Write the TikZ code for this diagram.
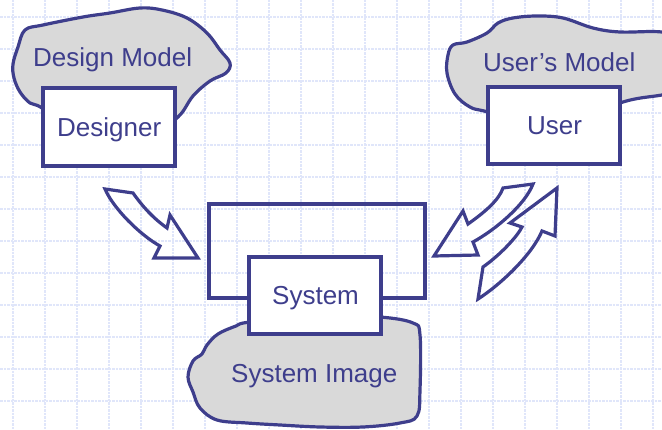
\documentclass[tikz,border=0pt]{standalone}
\usepackage{fontspec}
\setmainfont{Liberation Sans}
\definecolor{ink}{RGB}{62,62,140}
\definecolor{blobgray}{RGB}{217,217,217}
\definecolor{gridblue}{RGB}{224,230,250}
\begin{document}
\begin{tikzpicture}[x=1pt,y=-1pt,
  lbl/.style={text=ink,font=\fontsize{26}{30}\selectfont,inner sep=0pt,anchor=base west},
  boxnode/.style={draw=ink,line width=3.2pt,fill=white},
  blob/.style={draw=ink,line width=3.2pt,fill=blobgray,line join=round},
  bigarrow/.style={draw=ink,line width=3.2pt,line join=miter},
  gridline/.style={draw=gridblue,line width=1.3pt,dash pattern=on 2.5pt off 1pt}]
\useasboundingbox (0,0) rectangle (662,430);
\clip (0,0) rectangle (662,430);
% grid
\foreach \i in {0,...,20} {\draw[gridline] (13+32*\i,0) -- (13+32*\i,430);}
\foreach \j in {0,...,12} {\draw[gridline] (0,17+32*\j) -- (662,17+32*\j);}
% blobs
\draw[blob] plot[smooth cycle,tension=0.6] coordinates {(42,108) (30,103) (20,92) (14,78) (13,64) (18,47) (25,30) (43,25) (83,17) (110,13) (140,8) (162,10) (187,18) (207,33) (220,50) (230,63) (226,73) (210,81) (193,96) (178,117) (150,135) (80,135)};
\draw[blob] plot[smooth cycle,tension=0.6] coordinates {(488,112) (470,107) (455,94) (447,73) (448,55) (453,45) (467,42) (487,33) (498,23) (513,18) (537,16) (563,18) (593,28) (620,32) (662,32) (690,40) (690,90) (662,95) (620,103) (560,130)};
\draw[blob] plot[smooth cycle,tension=0.6] coordinates {(250,322) (236,326) (218,334) (207,345) (202,354) (193,361) (188,377) (193,392) (200,408) (217,420) (247,423) (280,425) (320,427) (363,427) (400,423) (417,416) (420,390) (420,335) (413,323) (380,317) (320,315)};
% boxes
\draw[ink,line width=3.2pt] (209,204) rectangle (425,298);
\node[boxnode,minimum width=132pt,minimum height=78pt] (designer) at (109,127) {};
\node[boxnode,minimum width=132pt,minimum height=77pt] (user) at (554,125.5) {};
\node[boxnode,minimum width=132pt,minimum height=77pt] (system) at (315,295.5) {};
% labels
\node[lbl] (dm) at (33,67) {Design Model};
\node[lbl] (dt) at (57,137) {Designer};
\node[lbl] (um) at (483,72) {User’s Model};
\node[lbl] (ut) at (527,135) {User};
\node[lbl] (st) at (272,305) {System};
\node[lbl] (si) at (231,383) {System Image};
% arrows
\draw[bigarrow] (105,189) -- (133,193) .. controls (143,207) and (153,218) .. (167,228) -- (170,215) -- (198,258) -- (154,258) -- (160,246) .. controls (140,235) and (113,208) .. (105,189) -- cycle;
\draw[bigarrow] (503,188) -- (533,184) .. controls (525,205) and (495,230) .. (473,242) -- (478,255) -- (434,256) -- (463,211) -- (468,224) .. controls (485,212) and (499,200) .. (503,188) -- cycle;
\draw[bigarrow] (478,299) -- (483,267) .. controls (500,255) and (517,237) .. (522,227) -- (510,223) -- (557,188) -- (555,236) -- (542,231) .. controls (532,255) and (500,285) .. (478,299) -- cycle;
\end{tikzpicture}
\end{document}
